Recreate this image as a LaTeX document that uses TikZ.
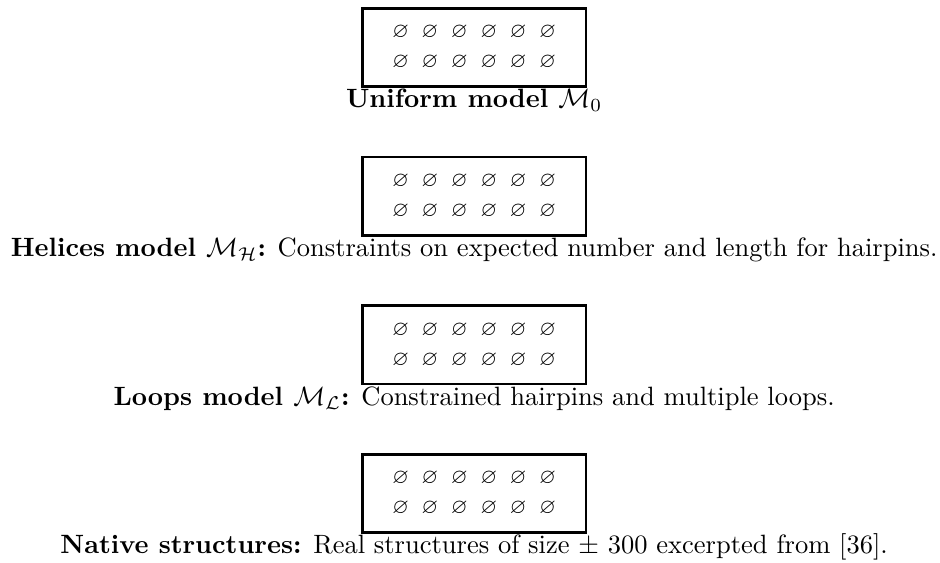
\documentclass[tikz,border=0pt]{standalone}
\usepackage{amssymb}
\usetikzlibrary{positioning}
\newcommand{\slotrow}{\makebox[11.1pt]{$\varnothing$}\makebox[11.1pt]{$\varnothing$}\makebox[11.1pt]{$\varnothing$}\makebox[11.1pt]{$\varnothing$}\makebox[11.1pt]{$\varnothing$}\makebox[11.1pt]{$\varnothing$}}
\newcommand{\slotgrid}{\slotrow\\\slotrow}
\tikzset{
  modelbox/.style = {draw, line width=1pt, rectangle, inner sep=0pt, align=center,
    minimum width=84.3pt, minimum height=29.6pt, font=\fontsize{8}{11.3}\selectfont},
  caption/.style  = {anchor=base, inner sep=0pt, font=\normalsize}
}
\begin{document}
\begin{tikzpicture}
\useasboundingbox (0,0) rectangle (354.7pt,-212.1pt);
\node[modelbox] (uniform) at (178.9pt,-17.9pt) {\slotgrid};
\node[modelbox, below=25.5pt of uniform] (helices) {\slotgrid};
\node[modelbox, below=25.5pt of helices] (loops) {\slotgrid};
\node[modelbox, below=25.5pt of loops] (native) {\slotgrid};

\node[caption] (uniform_cap) at ([yshift=-7.5pt]uniform.south) {\textbf{Uniform model $\mathcal{M}_0$}};
\node[caption] (helices_cap) at ([yshift=-7.5pt]helices.south) {\textbf{Helices model $\mathcal{M}_{\mathcal{H}}$:} Constraints on expected number and length for hairpins.};
\node[caption] (loops_cap) at ([yshift=-7.5pt]loops.south) {\textbf{Loops model $\mathcal{M}_{\mathcal{L}}$:} Constrained hairpins and multiple loops.};
\node[caption] (native_cap) at ([yshift=-7.5pt]native.south) {\textbf{Native structures:} Real structures of size $\pm$ 300 excerpted from [36].};
\end{tikzpicture}
\end{document}
